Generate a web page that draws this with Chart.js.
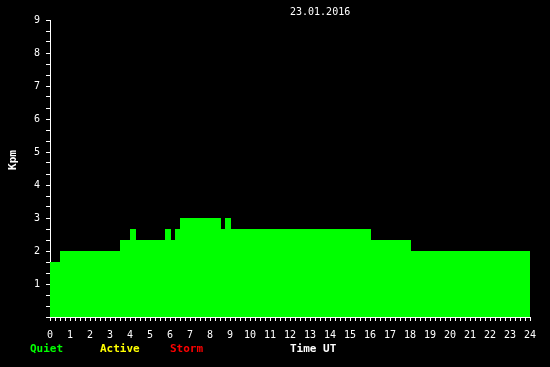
<!DOCTYPE html>
<html>
<head>
<meta charset="utf-8">
<script src="https://cdn.jsdelivr.net/npm/chart.js@4/dist/chart.umd.min.js"></script>
<style>
  body { margin: 0; background: #000; }
  #wrap { width: 550px; height: 367px; }
</style>
</head>
<body>
<div id="wrap"><canvas id="kpChart" width="550" height="367"></canvas></div>
<script>
// Kpm level changes on 23.01.2016 (each value holds until the next hour mark)
const hours = [0, 0.5, 3.5, 4.0, 4.3, 5.75, 6.05, 6.25, 6.5, 8.55, 8.75, 9.05, 16.05, 18.05, 24];
const kpm = [1.67, 2, 2.33, 2.67, 2.33, 2.67, 2.33, 2.67, 3, 2.67, 3, 2.67, 2.33, 2, 2];
const yTickLabels = [1, 2, 3, 4, 5, 6, 7, 8, 9];
const xTickLabels = Array.from({ length: 25 }, (_, i) => i);
const legendItems = [
  { text: "Quiet", color: "#00ff00", x: 30 },
  { text: "Active", color: "#ffff00", x: 100 },
  { text: "Storm", color: "#ff0000", x: 170 },
];

const mono = "'DejaVu Sans Mono', 'Liberation Mono', monospace";

const isWhole = (v) => Math.abs(v - Math.round(v)) < 0.01;

// black background + extra texts
const textPlugin = {
  id: "texts",
  beforeDraw(chart) {
    const ctx = chart.ctx;
    ctx.save();
    ctx.fillStyle = "#000";
    ctx.fillRect(0, 0, chart.width, chart.height);
    ctx.restore();
  },
  afterDraw(chart) {
    const ctx = chart.ctx;
    ctx.save();
    ctx.textBaseline = "middle";
    ctx.textAlign = "left";

    ctx.fillStyle = "#fff";
    ctx.font = "10px " + mono;
    ctx.fillText("23.01.2016", 290, 12);

    ctx.font = "bold 11px " + mono;
    legendItems.forEach((item) => {
      ctx.fillStyle = item.color;
      ctx.fillText(item.text, item.x, 349);
    });
    ctx.fillStyle = "#fff";
    ctx.fillText("Time UT", 290, 349);

    ctx.translate(13, 160);
    ctx.rotate(-Math.PI / 2);
    ctx.textAlign = "center";
    ctx.fillText("Kpm", 0, 0);
    ctx.restore();
  },
};

const ctx = document.getElementById("kpChart").getContext("2d");
new Chart(ctx, {
  type: "line",
  data: {
    datasets: [
      {
        data: hours.map((h, i) => ({ x: h, y: kpm[i] })),
        stepped: true,
        fill: "origin",
        backgroundColor: "#00ff00",
        borderColor: "rgba(0,0,0,0)",
        borderWidth: 0,
        pointRadius: 0,
      },
    ],
  },
  options: {
    responsive: false,
    animation: false,
    layout: { padding: { top: 20, right: 20, left: 0, bottom: 0 } },
    plugins: { legend: { display: false }, tooltip: { enabled: false } },
    scales: {
      x: {
        type: "linear",
        min: 0,
        max: 24,
        afterBuildTicks: (scale) => {
          scale.ticks = Array.from({ length: 97 }, (_, i) => ({ value: i / 4 }));
        },
        afterFit: (scale) => { scale.height = 50; },
        ticks: {
          autoSkip: false,
          maxRotation: 0,
          color: "#fff",
          padding: 8,
          font: { family: mono, size: 10 },
          callback: (v) => (isWhole(v) && xTickLabels.includes(Math.round(v)) ? String(Math.round(v)) : ""),
        },
        grid: {
          drawOnChartArea: false,
          drawTicks: true,
          tickLength: 4,
          tickColor: "#fff",
        },
        border: { display: true, color: "#fff", width: 1 },
      },
      y: {
        min: 0,
        max: 9,
        afterBuildTicks: (scale) => {
          scale.ticks = Array.from({ length: 28 }, (_, i) => ({ value: i / 3 }));
        },
        afterFit: (scale) => { scale.width = 50; },
        ticks: {
          autoSkip: false,
          color: "#fff",
          padding: 6,
          font: { family: mono, size: 10 },
          callback: (v) => (isWhole(v) && yTickLabels.includes(Math.round(v)) ? String(Math.round(v)) : ""),
        },
        grid: {
          drawOnChartArea: false,
          drawTicks: true,
          tickLength: 4,
          tickColor: "#fff",
        },
        border: { display: true, color: "#fff", width: 1 },
      },
    },
  },
  plugins: [textPlugin],
});
</script>
</body>
</html>
